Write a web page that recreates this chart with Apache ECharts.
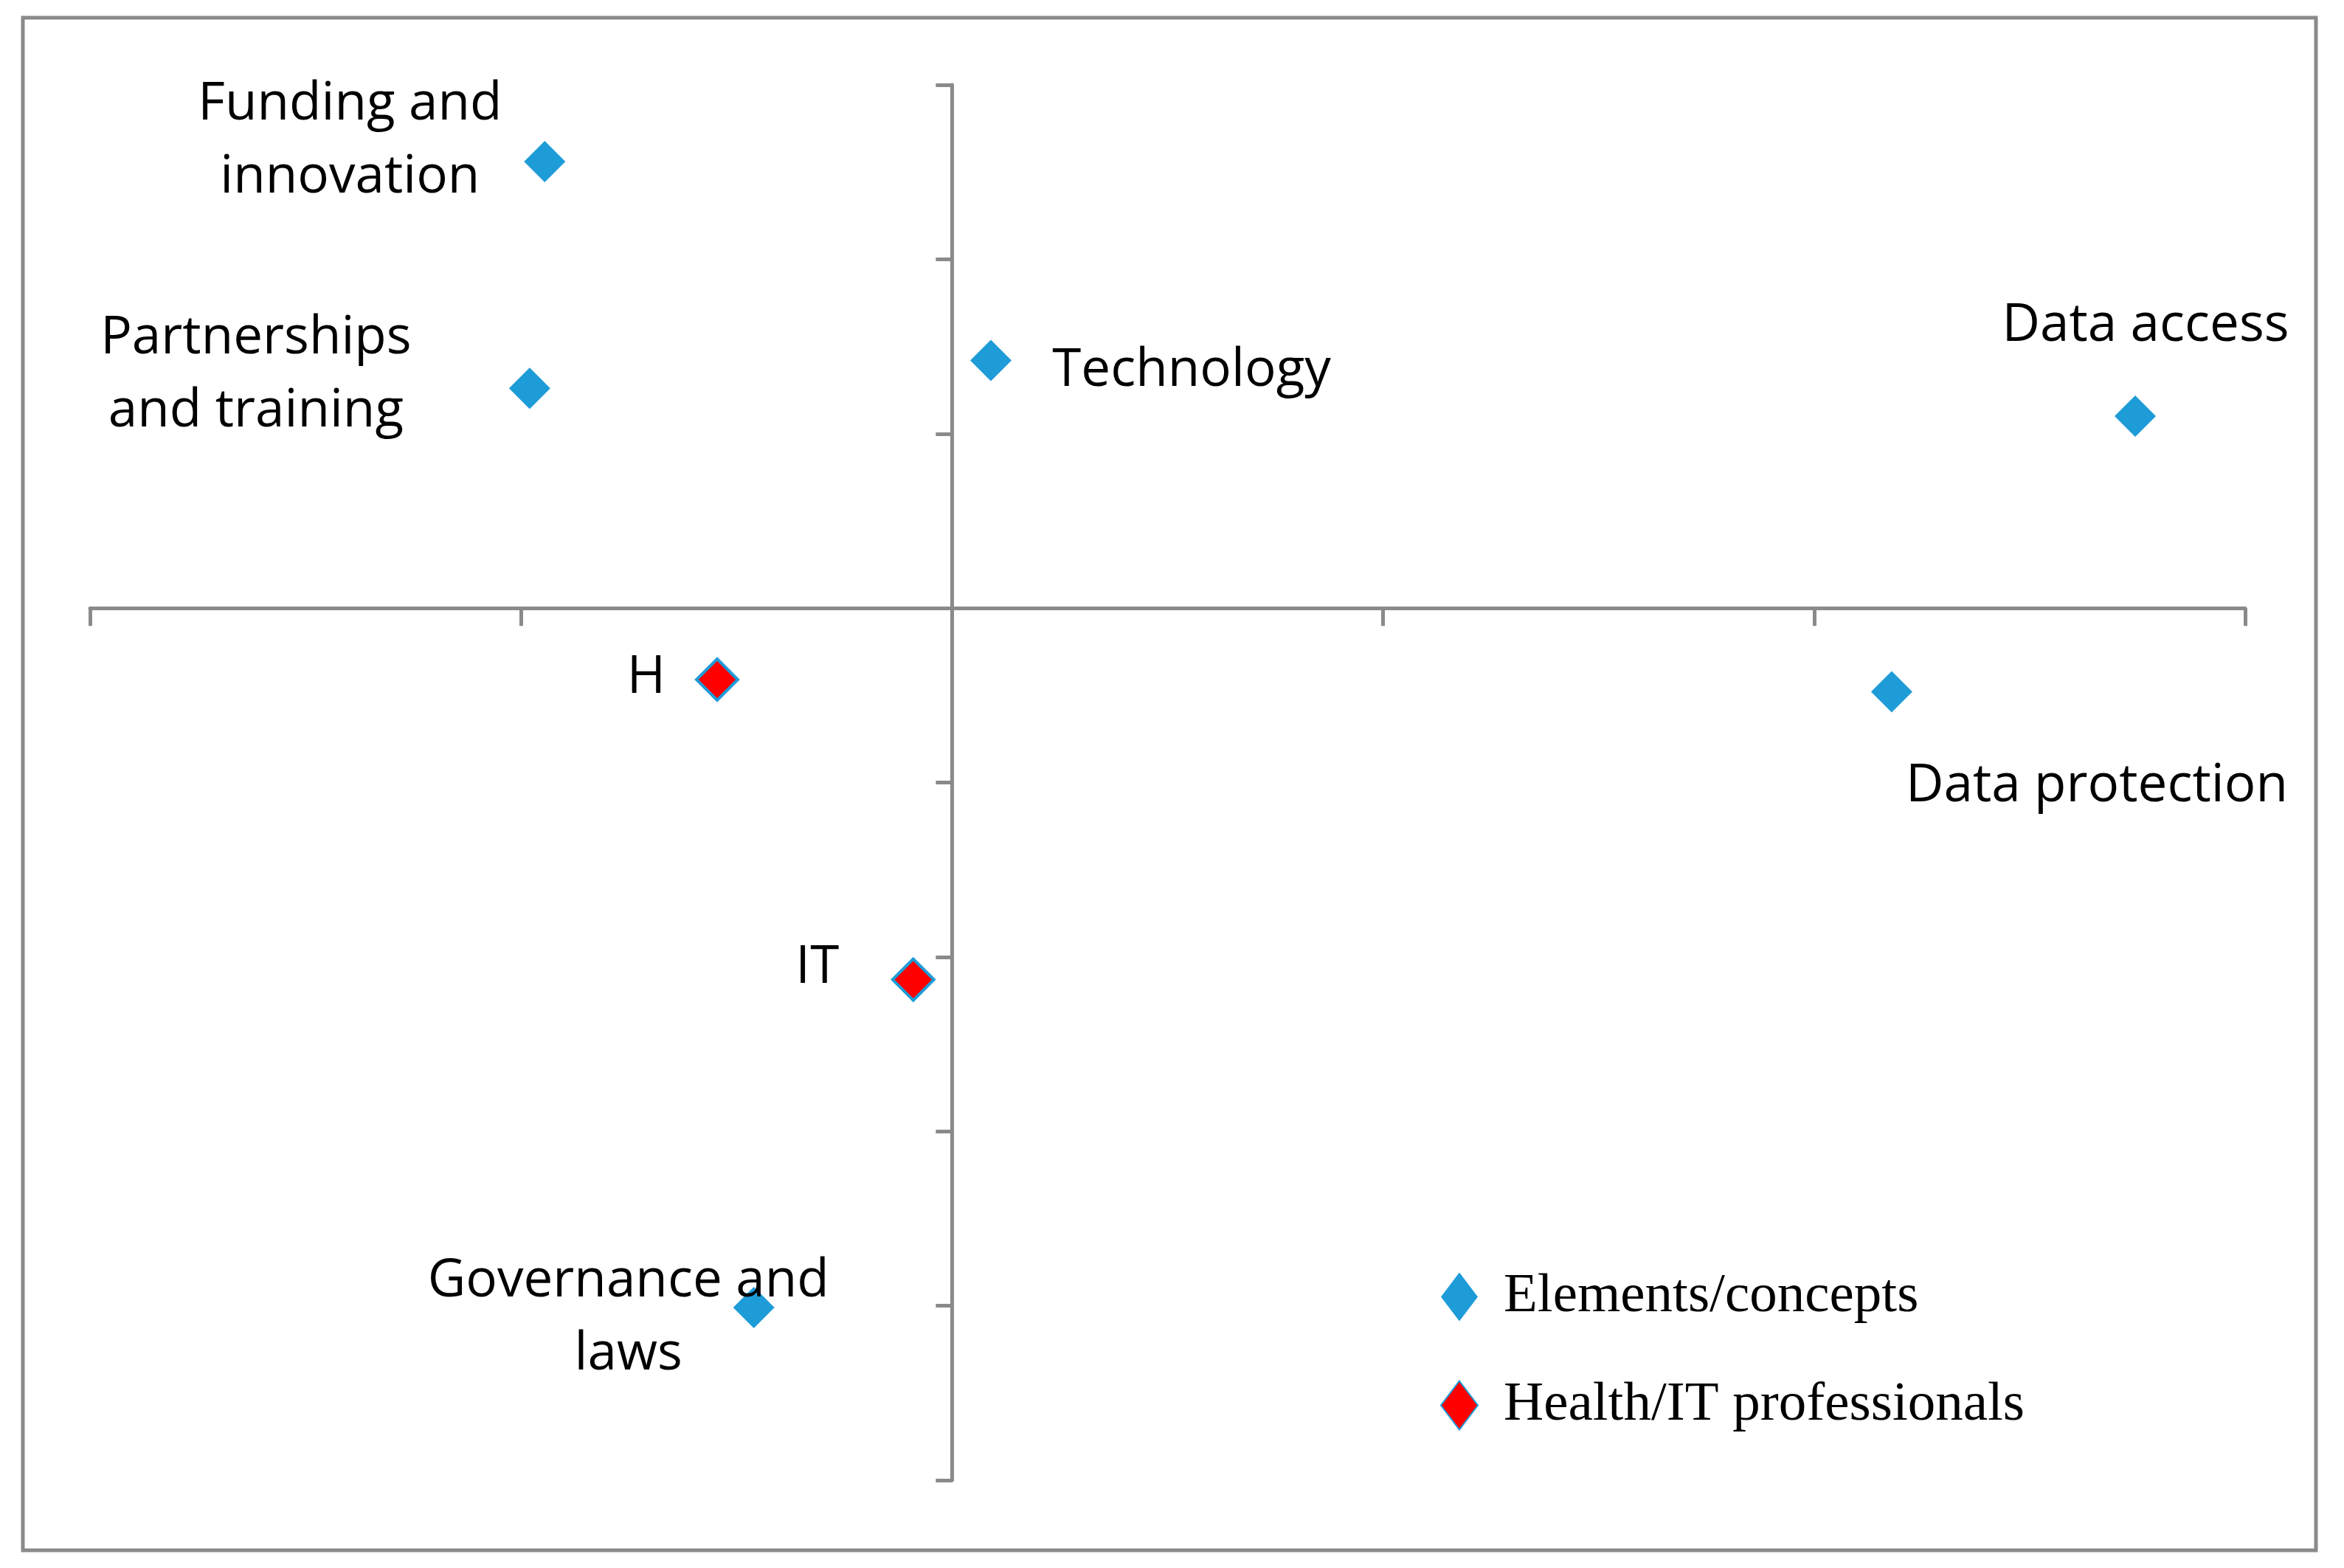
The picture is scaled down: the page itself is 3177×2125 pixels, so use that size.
<!DOCTYPE html>
<html>
<head>
<meta charset="utf-8">
<script src="https://cdn.jsdelivr.net/npm/echarts@6/dist/echarts.min.js"></script>
<style>
html,body{margin:0;padding:0;background:#fff;}
#chart{width:3177px;height:2125px;}
</style>
</head>
<body>
<div id="chart"></div>
<script>
// ---- data ----
const seriesNames = ['Elements/concepts', 'Health/IT professionals'];
const elementNames = ['Funding and innovation', 'Partnerships and training', 'Technology', 'Data access', 'Data protection', 'Governance and laws'];
const elementX = [-0.945, -0.98, 0.09, 2.745, 2.18, -0.46];
const elementY = [2.56, 1.26, 1.42, 1.10, -0.48, -4.01];
const professionalNames = ['H', 'IT'];
const professionalX = [-0.545, -0.09];
const professionalY = [-0.41, -2.13];
const xTicks = [-2, -1, 0, 1, 2, 3];
const yTicks = [-5, -4, -3, -2, -1, 0, 1, 2, 3];

// ---- label styling (placement / line breaks) ----
const labelText = {
  'Funding and innovation': 'Funding and\ninnovation',
  'Partnerships and training': 'Partnerships\nand training',
  'Governance and laws': 'Governance and\nlaws'
};
const labelOffsets = {
  'Funding and innovation': [-264, -28],
  'Partnerships and training': [-371, -18],
  'Technology': [272, 14],
  'Data access': [14, -122],
  'Data protection': [278, 128],
  'Governance and laws': [-170, 14],
  'H': [-96, -2],
  'IT': [-130, -16]
};

const BLUE = '#1e9cd8';
const RED = '#ff0000';
const GRAY = '#8a8a8a';

function buildPoints(names, xs, ys) {
  return names.map((n, i) => ({
    name: n,
    value: [xs[i], ys[i]],
    label: {
      show: true,
      position: 'inside',
      offset: labelOffsets[n] || [0, 0],
      align: 'center',
      verticalAlign: 'middle',
      formatter: () => labelText[n] || n,
      color: '#000',
      fontFamily: 'Open Sans',
      fontSize: 71,
      lineHeight: 99,
      textBorderWidth: 0
    }
  }));
}

const chart = echarts.init(document.getElementById('chart'), null, {renderer: 'canvas'});
chart.setOption({
  backgroundColor: '#fff',
  animation: false,
  graphic: [{
    type: 'rect',
    shape: {x: 31, y: 24, width: 3108, height: 2077},
    style: {fill: 'none', stroke: GRAY, lineWidth: 5},
    silent: true,
    z: -1
  }],
  grid: {left: 122, right: 134, top: 115, bottom: 119},
  xAxis: {
    type: 'value',
    min: xTicks[0], max: xTicks[xTicks.length - 1], interval: 1,
    axisLine: {show: true, onZero: true, lineStyle: {color: GRAY, width: 5}},
    axisTick: {show: true, length: 24, lineStyle: {color: GRAY, width: 5}},
    axisLabel: {show: false},
    splitLine: {show: false}
  },
  yAxis: {
    type: 'value',
    min: yTicks[0], max: yTicks[yTicks.length - 1], interval: 1,
    axisLine: {show: true, onZero: true, lineStyle: {color: GRAY, width: 5}},
    axisTick: {show: true, length: 22, lineStyle: {color: GRAY, width: 5}},
    axisLabel: {show: false},
    splitLine: {show: false}
  },
  legend: {
    orient: 'vertical',
    left: 1947,
    top: 1715,
    itemWidth: 50,
    itemHeight: 66,
    itemGap: 72,
    selectedMode: false,
    data: seriesNames,
    textStyle: {
      fontFamily: 'Liberation Serif',
      fontSize: 75,
      lineHeight: 66,
      color: '#000',
      padding: [0, 0, 0, 30]
    }
  },
  series: [
    {
      name: seriesNames[0],
      type: 'scatter',
      symbol: 'diamond',
      symbolSize: [56, 56],
      itemStyle: {color: BLUE, opacity: 1},
      emphasis: {disabled: true},
      data: buildPoints(elementNames, elementX, elementY)
    },
    {
      name: seriesNames[1],
      type: 'scatter',
      symbol: 'diamond',
      symbolSize: [56, 56],
      itemStyle: {color: RED, borderColor: BLUE, borderWidth: 4, opacity: 1},
      emphasis: {disabled: true},
      data: buildPoints(professionalNames, professionalX, professionalY)
    }
  ]
});
</script>
</body>
</html>
